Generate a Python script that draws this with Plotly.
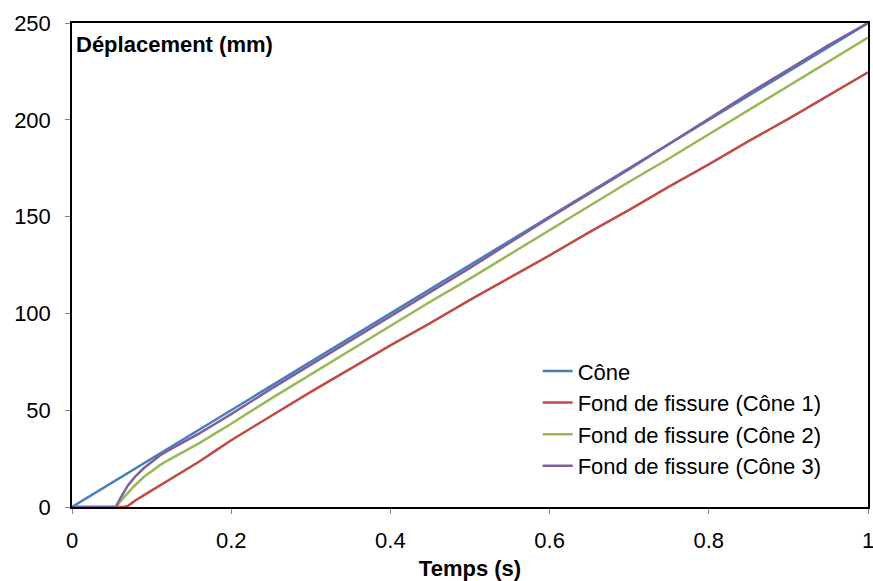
import plotly.graph_objects as go

# time (s)
t = [0, 0.05, 0.055, 0.06, 0.065, 0.07, 0.075, 0.08, 0.09, 0.10, 0.11, 0.12,
     0.14, 0.16, 0.18, 0.20, 0.25, 0.30, 0.35, 0.40, 0.45, 0.50, 0.55, 0.60,
     0.65, 0.70, 0.75, 0.80, 0.85, 0.90, 0.95, 1.00]

# cone displacement (mm)
t_cone = [0, 1]
cone = [0, 250]

# crack tip displacement (mm)
fond1 = [0, 0, 0, 0, 0, 0.5, 2, 3.5, 6, 8.5, 11, 13.5,
         18.5, 23.5, 29, 34.5, 47, 59.5, 71.5, 83.5, 95, 107, 118.5, 130,
         142, 153.5, 165.5, 177, 189, 200.5, 212.5, 224.5]
fond2 = [0, 0, 0, 2.5, 5, 7.5, 9.5, 11.5, 15.5, 18.5, 21.5, 24,
         28.5, 33, 38, 43, 56, 68.5, 81, 93.5, 106, 118, 130.5, 143,
         155.5, 168, 180, 192.5, 205, 217.5, 230, 242.5]
fond3 = [0, 0, 0, 4, 7.5, 11, 13.5, 16, 20, 23.5, 26.5, 29,
         33.5, 38, 43, 48, 61, 73.5, 86, 98.5, 111, 123.5, 136.5, 149.5,
         162, 174.5, 187.5, 200.5, 213.5, 226, 238.5, 250]

fig = go.Figure()
fig.add_trace(go.Scatter(x=t_cone, y=cone, name='Cône', legendgroup='a',
                         mode='lines', line=dict(color='#4A7EBB', width=2.5)))
fig.add_trace(go.Scatter(x=t, y=fond1, name='Fond de fissure (Cône 1)', legendgroup='b',
                         mode='lines', line=dict(color='#BE4B48', width=2.5)))
fig.add_trace(go.Scatter(x=t, y=fond2, name='Fond de fissure (Cône 2)', legendgroup='c',
                         mode='lines', line=dict(color='#98B954', width=2.5)))
fig.add_trace(go.Scatter(x=t, y=fond3, name='Fond de fissure (Cône 3)', legendgroup='d',
                         mode='lines', line=dict(color='#7D60A0', width=2.5)))

fig.add_annotation(text='<b>Déplacement (mm)</b>', xref='paper', yref='paper',
                   x=0.002, y=0.985, xanchor='left', yanchor='top', showarrow=False,
                   font=dict(size=22, color='black'))

fig.update_layout(
    width=873, height=581,
    margin=dict(l=72, r=5, t=23, b=74),
    paper_bgcolor='white', plot_bgcolor='white',
    font=dict(family='Liberation Sans, Arial', size=22, color='black'),
    legend=dict(x=0.585, y=0.324, xanchor='left', yanchor='top',
                bgcolor='rgba(0,0,0,0)', tracegroupgap=0, font=dict(size=22)),
)
fig.update_xaxes(range=[0, 1], dtick=0.2, tickformat='.1~f', showgrid=False, zeroline=False,
                 showline=True, linecolor='black', linewidth=1.5, mirror=True,
                 ticks='outside', ticklen=5, tickcolor='#868686', automargin=False,
                 ticklabelstandoff=8, ticklabeloverflow='allow',
                 title=dict(text='<b>Temps (s)</b>', standoff=8, font=dict(size=22)))
fig.update_yaxes(range=[0, 250], dtick=50, showgrid=False, zeroline=False,
                 showline=True, linecolor='black', linewidth=1.5, mirror=True,
                 ticks='outside', ticklen=5, tickcolor='#868686', automargin=False,
                 ticklabelstandoff=10, ticklabeloverflow='allow')

# page has a default body margin; remove it so the figure sits at the window origin
fig.write_html("out.html", config={'displayModeBar': False},
               post_script="document.body.style.margin='0';")
